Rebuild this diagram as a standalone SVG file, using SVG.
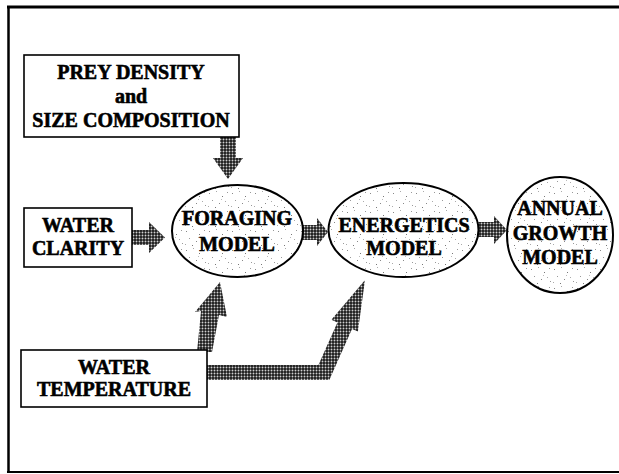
<svg xmlns="http://www.w3.org/2000/svg" width="619" height="474" viewBox="0 0 619 474">
  <defs>
    <pattern id="halftone" width="3" height="3" patternUnits="userSpaceOnUse">
      <rect width="3" height="3" fill="#1a1a1a"/>
      <circle cx="1.5" cy="1.5" r="0.95" fill="#d0d0d0"/>
    </pattern>
    <pattern id="speckle" width="23" height="19" patternUnits="userSpaceOnUse">
      <rect width="23" height="19" fill="#ffffff"/>
      <rect x="2" y="3" width="1" height="1" fill="#888"/>
      <rect x="9" y="1" width="1" height="1" fill="#aaa"/>
      <rect x="15" y="6" width="1" height="1" fill="#777"/>
      <rect x="20" y="2" width="1" height="1" fill="#999"/>
      <rect x="5" y="10" width="1" height="1" fill="#999"/>
      <rect x="12" y="13" width="1" height="1" fill="#888"/>
      <rect x="18" y="11" width="1" height="1" fill="#aaa"/>
      <rect x="1" y="16" width="1" height="1" fill="#aaa"/>
      <rect x="8" y="17" width="1" height="1" fill="#777"/>
      <rect x="21" y="15" width="1" height="1" fill="#999"/>
      <rect x="14" y="9" width="1" height="1" fill="#bbb"/>
    </pattern>
  </defs>
  <style>
    .box { fill: #ffffff; stroke: #000000; stroke-width: 1.6; }
    .ell { fill: url(#speckle); stroke: #000000; stroke-width: 2; }
    .arrow { fill: url(#halftone); stroke: none; }
    .lbl { font-family: "Liberation Serif", "Times New Roman", serif; font-weight: bold; font-size: 20px; fill: #000000; stroke: #000000; stroke-width: 0.6; text-anchor: middle; }
    .frame { fill: none; stroke: #000000; }
  </style>

  <rect x="0" y="0" width="619" height="474" fill="#ffffff"/>

  <g id="frame">
    <line class="frame" x1="7" y1="7" x2="619" y2="7" stroke-width="3"/>
    <line class="frame" x1="8.5" y1="6" x2="8.5" y2="473" stroke-width="2.5"/>
    <line class="frame" x1="7" y1="472" x2="619" y2="472" stroke-width="2"/>
  </g>

  <g id="connectors">
    <polygon class="arrow" points="220,135 236,135 236,158 243,158 228,179 213,158 220,158"/>
    <polygon class="arrow" points="130,230 149,230 149,222 165,237.5 149,253 149,245 130,245"/>
    <polygon class="arrow" points="300,225 317,225 317,218 328,232 317,246 317,240 300,240"/>
    <polygon class="arrow" points="477,222 494,222 494,216 507,230 494,244 494,237 477,237"/>
    <polygon class="arrow" points="197,352 201,311 195,312 220,282 227,317 219,315 212,352"/>
    <polygon class="arrow" points="205,365 318.4,365 337.4,322.4 331.4,319.8 365,280 357.9,331.6 352,328.9 329.3,380 205,380"/>
  </g>

  <g id="prey">
    <rect class="box" x="24" y="55" width="215" height="82"/>
    <text class="lbl" x="131" y="78.5">PREY DENSITY</text>
    <text class="lbl" x="131" y="103">and</text>
    <text class="lbl" x="131" y="127">SIZE COMPOSITION</text>
  </g>

  <g id="clarity">
    <rect class="box" x="24" y="208" width="108" height="59"/>
    <text class="lbl" x="78" y="232">WATER</text>
    <text class="lbl" x="78" y="255">CLARITY</text>
  </g>

  <g id="temperature">
    <rect class="box" x="21" y="350" width="186" height="57"/>
    <text class="lbl" x="114" y="374">WATER</text>
    <text class="lbl" x="114" y="396">TEMPERATURE</text>
  </g>

  <g id="foraging">
    <ellipse class="ell" cx="237.5" cy="231" rx="65.5" ry="46"/>
    <text class="lbl" x="237" y="225">FORAGING</text>
    <text class="lbl" x="237" y="251">MODEL</text>
  </g>

  <g id="energetics">
    <ellipse class="ell" cx="403.5" cy="230" rx="75" ry="47"/>
    <text class="lbl" x="404" y="232">ENERGETICS</text>
    <text class="lbl" x="404" y="255">MODEL</text>
  </g>

  <g id="growth">
    <ellipse class="ell" cx="560" cy="235" rx="53" ry="58"/>
    <text class="lbl" x="560" y="215">ANNUAL</text>
    <text class="lbl" x="560" y="240">GROWTH</text>
    <text class="lbl" x="560" y="264">MODEL</text>
  </g>
</svg>
